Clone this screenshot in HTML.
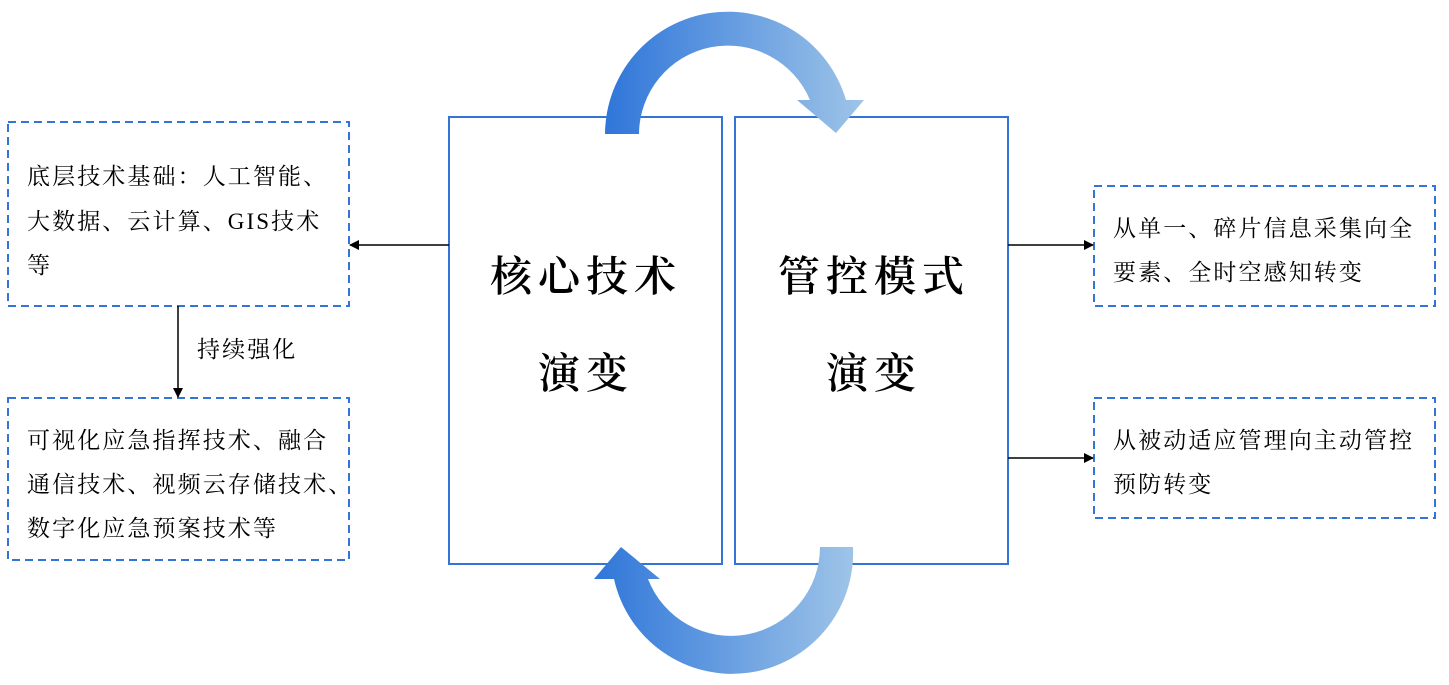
<!DOCTYPE html>
<html><head><meta charset="utf-8"><style>
html,body{margin:0;padding:0;background:#fff;}
svg text{font-family:"Liberation Serif","Noto Serif CJK SC",serif;fill:#000;}
</style></head><body>
<svg width="1449" height="680" xmlns="http://www.w3.org/2000/svg">
<defs>
<linearGradient id="g1" x1="605" y1="0" x2="864" y2="0" gradientUnits="userSpaceOnUse">
<stop offset="0" stop-color="#2f76d9"/><stop offset="1" stop-color="#9ec4e8"/></linearGradient>
<linearGradient id="g2" x1="594" y1="0" x2="853" y2="0" gradientUnits="userSpaceOnUse">
<stop offset="0" stop-color="#2f76d9"/><stop offset="1" stop-color="#9ec4e8"/></linearGradient>
<marker id="ah" markerWidth="10" markerHeight="10" refX="9" refY="5" orient="auto" markerUnits="userSpaceOnUse"><path d="M0,0 L10,5 L0,10 z" fill="#000"/></marker>
</defs>
<g fill="none" stroke="#3375d6" stroke-width="2" stroke-dasharray="8,5">
<rect x="8" y="122" width="341" height="184"/>
<rect x="8" y="398" width="341" height="162"/>
<rect x="1094" y="186" width="341" height="120"/>
<rect x="1094" y="398" width="341" height="120"/>
</g>
<g fill="#fff" stroke="#3375d6" stroke-width="2">
<rect x="449" y="117" width="273" height="447"/>
<rect x="735" y="117" width="273" height="447"/>
</g>
<path d="M605,134 A123,123 0 0 1 846,100 L864,100 L836,133 L797,100 L810,100 A89,89 0 0 0 639,134 Z" fill="url(#g1)"/>
<path d="M853,547 A121,121 0 0 1 614,579 L594,579 L621,547 L660,579 L648,579 A89,89 0 0 0 820,547 Z" fill="url(#g2)"/>
<g stroke="#000" stroke-width="1.5">
<line x1="449" y1="245" x2="350" y2="245" marker-end="url(#ah)"/>
<line x1="178" y1="306" x2="178" y2="397" marker-end="url(#ah)"/>
<line x1="1008" y1="245" x2="1093" y2="245" marker-end="url(#ah)"/>
<line x1="1008" y1="458" x2="1093" y2="458" marker-end="url(#ah)"/>
</g>
<g font-size="23" letter-spacing="2.1">
<text x="27" y="184">底层技术基础：人工智能、</text>
<text x="27" y="229">大数据、云计算、GIS技术</text>
<text x="27" y="273">等</text>
<text x="197" y="357">持续强化</text>
<text x="27" y="448">可视化应急指挥技术、融合</text>
<text x="27" y="492">通信技术、视频云存储技术、</text>
<text x="27" y="536">数字化应急预案技术等</text>
<text x="1113" y="236">从单一、碎片信息采集向全</text>
<text x="1113" y="280">要素、全时空感知转变</text>
<text x="1113" y="448">从被动适应管理向主动管控</text>
<text x="1113" y="492">预防转变</text>
</g>
<g font-size="42" font-weight="600" text-anchor="middle" letter-spacing="6">
<text x="586" y="291">核心技术</text>
<text x="586" y="388">演变</text>
<text x="874" y="291">管控模式</text>
<text x="874" y="388">演变</text>
</g>
</svg>
</body></html>
